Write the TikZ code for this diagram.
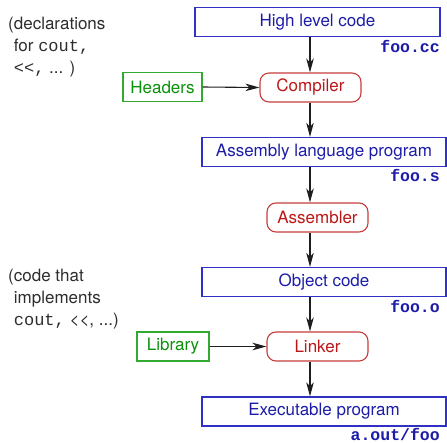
\documentclass[tikz,border=0pt]{standalone}
\usepackage{fontspec}
\setmainfont{TeX Gyre Heros}[Ligatures=NoCommon]
\setmonofont{Liberation Mono}
\usetikzlibrary{arrows.meta}

\definecolor{fileText}{RGB}{28,28,168}
\definecolor{fileLine}{RGB}{48,48,196}
\definecolor{toolText}{RGB}{188,22,22}
\definecolor{toolLine}{RGB}{200,60,60}
\definecolor{extText}{RGB}{10,145,10}
\definecolor{extLine}{RGB}{50,170,50}
\definecolor{noteText}{RGB}{45,45,45}
\definecolor{flowLine}{RGB}{30,30,30}

\begin{document}
\begin{tikzpicture}[x=1pt, y=-1pt,
  labeltext/.style={font=\fontsize{17}{22}\selectfont},
  filebox/.style={labeltext, draw=fileLine, text=fileText, line width=1.3pt,
    inner sep=0pt, minimum height=29pt},
  toolbox/.style={labeltext, draw=toolLine, text=toolText, line width=1.1pt,
    rounded corners=9pt, inner sep=0pt, minimum width=101pt, minimum height=29pt},
  extbox/.style={labeltext, draw=extLine, text=extText, line width=1.1pt,
    inner sep=0pt, minimum height=29pt},
  filename/.style={anchor=base east, text=fileText, inner sep=0pt,
    font=\fontsize{16.5}{20}\selectfont\ttfamily\bfseries},
  sidenote/.style={labeltext, anchor=base west, align=left, text=noteText,
    inner sep=0pt},
  flow/.style={draw=flowLine, line width=1.1pt,
    -{Stealth[length=14pt, width=7.5pt, inset=4pt]}}]
  \useasboundingbox (0,0) rectangle (447,442);

  % common vertical axis of the pipeline
  \coordinate (axis) at (310,0);

  % source and intermediate files
  \node[filebox, minimum width=245pt] (hlc) at (317.5,22) {High level code};
  \node[filebox, minimum width=244pt] (asm) at (324,152) {Assembly language program};
  \node[filebox, minimum width=244pt] (obj) at (324,282) {Object code};
  \node[filebox, minimum width=244pt] (exe) at (324,411.5) {Executable program};

  % file names
  \node[filename] (fcc) at (440,52) {foo.cc};
  \node[filename] (fs)  at (440,181) {foo.s};
  \node[filename] (fo)  at (440,312) {foo.o};
  \node[filename] (fx)  at (440,440) {a.out/foo};

  % tools
  \node[toolbox] (comp) at (310.5,87.5) {Compiler};
  \node[toolbox] (asmb) at (317.5,217.5) {Assembler};
  \node[toolbox] (link) at (317.5,346.5) {Linker};

  % external inputs
  \node[extbox, minimum width=79pt] (hdr) at (162.5,87) {Headers};
  \node[extbox, minimum width=72pt] (lib) at (173,346.5) {Library};

  % side notes
  \node[sidenote] (n1) at (8,73) {(declarations\\
    \phantom{(}for \texttt{cout,}\\
    \phantom{(}\texttt{<<,} ... )};
  \node[sidenote] (n2) at (8,325) {(code that\\
    \phantom{(}implements\\
    \phantom{(}\texttt{cout,} {<}{<}, ...)};

  % flow
  \draw[flow] (hlc.south -| axis) -- (comp.north -| axis);
  \draw[flow] (comp.south -| axis) -- (asm.north -| axis);
  \draw[flow] (asm.south -| axis) -- (asmb.north -| axis);
  \draw[flow] (asmb.south -| axis) -- (obj.north -| axis);
  \draw[flow] (obj.south -| axis) -- (link.north -| axis);
  \draw[flow] (link.south -| axis) -- (exe.north -| axis);
  \draw[flow] (hdr.east) -- (comp.west);
  \draw[flow] (lib.east) -- (link.west);
\end{tikzpicture}
\end{document}
